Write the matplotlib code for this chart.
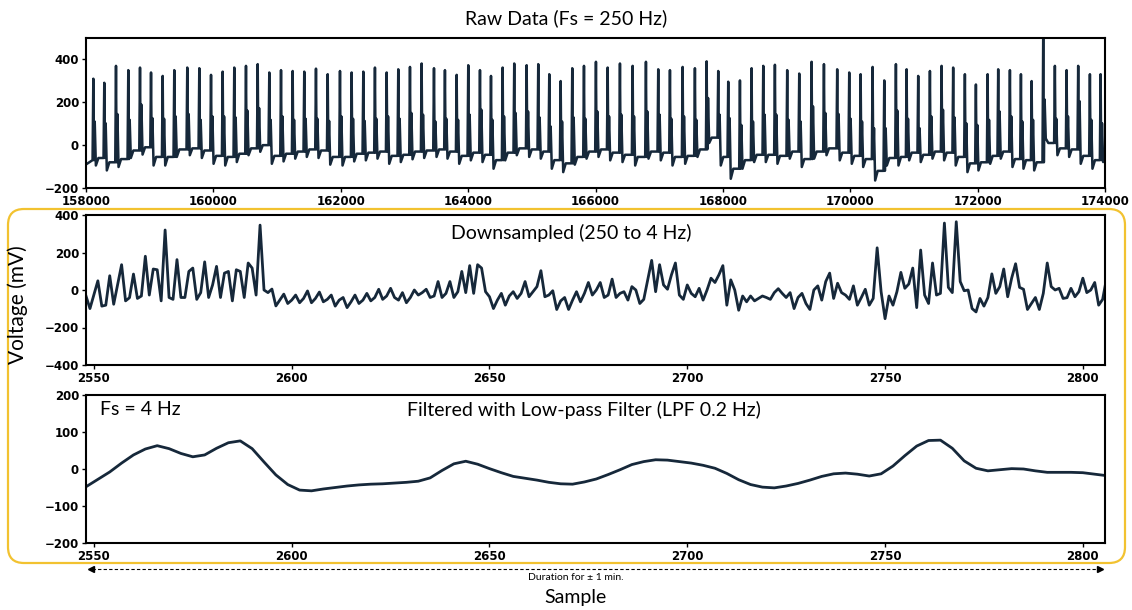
import matplotlib
matplotlib.use("Agg")
import matplotlib.pyplot as plt
import numpy as np
from matplotlib.lines import Line2D
from matplotlib.patches import FancyBboxPatch

# ---------------------------------------------------------------------------
# Raw data (Fs = 250 Hz): one entry per heart beat
# ---------------------------------------------------------------------------
beat_pos = [158115, 158287, 158471, 158664, 158848, 159021, 159204, 159386, 159590, 159779,
            159963, 160146, 160328, 160512, 160696, 160878, 161062, 161245, 161427, 161611,
            161795, 161988, 162171, 162354, 162537, 162721, 162903, 163087, 163270, 163464,
            163636, 163820, 164002, 164186, 164359, 164542, 164724, 164919, 165101, 165274,
            165453, 165635, 165819, 166007, 166191, 166384, 166583, 166792, 166985, 167169,
            167368, 167561, 167745, 167927, 168084, 168268, 168451, 168634, 168817, 169010,
            169199, 169393, 169587, 169795, 169984, 170163, 170351, 170534, 170717, 170885,
            171067, 171251, 171434, 171616, 171800, 171973, 172157, 172323, 172507, 172680,
            172848, 173030, 173213, 173397, 173579, 173763, 173931]
beat_peak = [310, 291, 370, 350, 362, 339, 323, 350, 362, 359, 328, 343, 362, 370, 378,
             339, 350, 346, 343, 357, 331, 346, 339, 343, 362, 339, 354, 365, 381,
             359, 350, 328, 373, 350, 323, 362, 381, 373, 378, 331, 299, 359, 370, 389,
             362, 381, 370, 389, 354, 350, 365, 359, 391, 346, 296, 302, 359, 370,
             375, 350, 334, 389, 378, 354, 339, 331, 365, 302, 378, 354, 323, 346, 370,
             362, 331, 283, 331, 354, 350, 331, 299, 520, 370, 350, 370, 331, 331]
beat_second = [110, 102, 145, 118, 189, 126, 123, 134, 145, 118, 134, 134, 129, 161, 173,
               118, 134, 118, 123, 123, 113, 134, 123, 113, 123, 134, 123, 150, 142,
               110, 123, 118, 142, 165, 118, 134, 150, 157, 129, 87, 110, 129, 123, 157,
               134, 142, 134, 157, 142, 123, 134, 118, 220, 142, 126, 94, 110, 142,
               142, 118, 110, 181, 150, 145, 123, 110, 79, 79, 161, 123, 79, 134, 165,
               129, 102, 94, 118, 157, 134, 110, 118, 213, 123, 134, 205, 118, 102]
beat_trough = [-95, -118, -102, -60, -44, -95, -95, -55, -47, -60, -87, -95, -79, -47, -31,
               -87, -76, -63, -55, -60, -91, -95, -76, -71, -63, -87, -79, -66, -60,
               -55, -63, -87, -71, -79, -110, -71, -47, -55, -63, -110, -126, -91, -63, -55,
               -71, -79, -95, -63, -71, -95, -87, -55, 10, -95, -157, -110, -79, -79,
               -87, -63, -102, -63, -47, -71, -87, -102, -165, -95, -95, -71, -79, -63, -71,
               -95, -126, -118, -87, -63, -102, -110, -118, 31, -47, -55, -87, -110, -79]
beat_base = [-70, -60, -80, -65, -25, -10, -55, -55, -20, -15, -25, -50, -55, -40, -15,
             0, -50, -40, -30, -20, -25, -55, -55, -40, -35, -30, -50, -45, -30,
             -25, -20, -30, -50, -35, -45, -70, -35, -15, -20, -30, -70, -85, -55, -30,
             -20, -35, -45, -55, -30, -35, -55, -50, -20, 35, -55, -110, -70, -45,
             -45, -50, -30, -65, -30, -15, -35, -50, -65, -120, -60, -55, -35, -45, -30,
             -35, -55, -85, -80, -50, -30, -65, -70, -80, 10, -15, -20, -50, -70]
raw_start = (158000, -90)
raw_end = (174000, -60)

# ---------------------------------------------------------------------------
# Downsampled (250 to 4 Hz), samples 2548..2806
# ---------------------------------------------------------------------------
down_start = 2548
down_vals = [
    -32, -99, -25, 49, -86, -81, 76, -76, 30, 135, -58, -41, 85, -45, -32, 180,
    -27, 112, 108, -58, 320, -40, -50, 162, -40, -40, 99, 117, -50, -14, 150, -40,
    27, 126, -40, 90, 99, -58, 108, 99, -40, 144, 117, -27, 346, 0, -14, 5,
    -85, -54, -22, -72, -54, -27, -68, -45, -5, -68, -45, -11, -63, -50, -27, -86,
    -54, -40,
    -94, -63, -27, -72, -54, -18, -58, -40, 4, -50, -32, 9, -40, -54, -14, -68,
    -40, 0, -27, -14, 4, -40, -32, 45, -40, -18, 45, -40, -9, 99, -14, 130,
    -18, 135, 117, -9, -36, -99, -54, -18, -81, -32, -9, -45, -18, 45, -36, -9,
    18, 103, -36, -27, -4, -104, -58, -40, -104, -54, -9, -63, -18, 40, -27, 0, 40,
    -40, -27, 58, -40, -18, -9, -54, 18, 0, -72, -50, 54, 158, -9, 135, 27,
    4, 81, 144, -27, -50, 27, -18, -36, 9, -54, 0, 63, 40, 81, 130, -81,
    54, 0, -108, -32, -63, -32, -58, -45, -32, -40, -50, -14, 7, -18, -40, -14,
    -99, -40, -18, -72, -104, 0, 22, -54, 45, 90, -45, 36, -14, -27, -50, 22,
    -81, -40, 4, -81, -45, 225, -9, -153, -32, -81, -9, 94, 9, 32, 117, -94,
    213, -27, -72, 144, -27, -18, 357, 14, -14, 364, 45, -4, 0, -99, -117, -45,
    -86, -40, 86, -18, 18, 112, -36, 63, 140, 14, 4, -104, -72, -40, -104, -18,
    144, 18, 0, 9, -45, -41, 9, -36, -9, 63, -14, 0, 40, -81, -50, 63,
]

# ---------------------------------------------------------------------------
# Filtered with LPF 0.2 Hz, read every 3 samples from 2548
# ---------------------------------------------------------------------------
filt_step = 3
filt_vals = [
    -48, -28, -8, 16, 38, 54, 63, 55, 42, 33, 38, 56, 71, 76, 55, 19,
    -16, -42, -57, -59, -54, -50, -46, -43, -41, -40, -38, -36, -33, -24, -4, 14,
    21, 13, 1, -10, -20, -25, -30, -36, -40, -41, -35, -27, -15, -2, 12, 20,
    25, 24, 20, 16, 10, 2, -12, -29, -42, -49, -51, -46, -39, -30, -20, -13,
    -11, -14, -19, -13, 8, 36, 62, 77, 78, 56, 22, 2, -5, -2, 1, 0,
    -5, -9, -9, -9, -10, -14, -18,
]

line_color = "#16283a"
box_color = "#f2c230"

plt.rcParams["font.family"] = ["Lato", "DejaVu Sans"]

W, H = 1132, 610
fig = plt.figure(figsize=(W / 100, H / 100), dpi=100)


def px_axes(left, top, right, bottom):
    return fig.add_axes([left / W, 1 - bottom / H, (right - left) / W, (bottom - top) / H])


def style_axes(ax):
    for sp in ax.spines.values():
        sp.set_linewidth(1.5)
        sp.set_color("black")
    ax.tick_params(length=3, width=1, pad=2)
    for lab in ax.get_xticklabels() + ax.get_yticklabels():
        lab.set_fontfamily("DejaVu Sans")
        lab.set_fontweight("bold")
        lab.set_fontsize(8.5)


# Yellow rounded frame round the lower two panels
frame = FancyBboxPatch((0.08, 0.47), 11.17, 3.54,
                       boxstyle="round,pad=0,rounding_size=0.16",
                       transform=fig.dpi_scale_trans, fill=False,
                       edgecolor=box_color, linewidth=1.6, zorder=0)
fig.add_artist(frame)

# --- Raw data ---
# each beat: resting level, spike, back to rest, second wave, trough, recovery
next_base = beat_base[1:] + [raw_end[1]]
raw_x = [raw_start[0]]
raw_y = [raw_start[1]]
for p, pk, sc, tr, bs, nb in zip(beat_pos, beat_peak, beat_second, beat_trough,
                                 beat_base, next_base):
    raw_x += [p - 12, p, p + 10, p + 22, p + 40, p + 80]
    raw_y += [bs, pk, bs, sc, tr, nb]
raw_x.append(raw_end[0])
raw_y.append(raw_end[1])

ax1 = px_axes(86, 38, 1105, 188)
ax1.plot(raw_x, raw_y, color=line_color, linewidth=1.8)
ax1.set_xlim(158000, 174000)
ax1.set_ylim(-200, 500)
ax1.set_xticks(np.arange(158000, 174001, 2000))
ax1.set_yticks([-200, 0, 200, 400])
style_axes(ax1)
fig.text(0.5, 1 - 18 / H, "Raw Data (Fs = 250 Hz)", ha="center", va="center", fontsize=14)

# --- Downsampled ---
down_x = np.arange(down_start, down_start + len(down_vals))
ax2 = px_axes(86, 215, 1105, 365)
ax2.plot(down_x, down_vals, color=line_color, linewidth=2)
ax2.set_xlim(2548, 2805.6)
ax2.set_ylim(-400, 400)
ax2.set_xticks(np.arange(2550, 2801, 50))
ax2.set_yticks([-400, -200, 0, 200, 400])
style_axes(ax2)
ax2.text(0.476, 0.88, "Downsampled (250 to 4 Hz)", transform=ax2.transAxes,
         ha="center", va="center", fontsize=14)

# --- Filtered ---
filt_x = down_start + filt_step * np.arange(len(filt_vals))
ax3 = px_axes(86, 395, 1105, 543)
ax3.plot(filt_x, filt_vals, color=line_color, linewidth=2)
ax3.set_xlim(2548, 2805.6)
ax3.set_ylim(-200, 200)
ax3.set_xticks(np.arange(2550, 2801, 50))
ax3.set_yticks([-200, -100, 0, 100, 200])
style_axes(ax3)
ax3.text(0.014, 0.90, "Fs = 4 Hz", transform=ax3.transAxes,
         ha="left", va="center", fontsize=14)
ax3.text(0.489, 0.90, "Filtered with Low-pass Filter (LPF 0.2 Hz)", transform=ax3.transAxes,
         ha="center", va="center", fontsize=14)

# Axis labels shared by the figure
fig.text(18 / W, 1 - 305 / H, "Voltage (mV)", rotation=90, ha="center", va="center", fontsize=15)
fig.text(575 / W, 1 - 598 / H, "Sample", ha="center", va="center", fontsize=14)

# Dashed duration arrow
y_arr = 1 - 569 / H
fig.add_artist(Line2D([92 / W, 1098 / W], [y_arr, y_arr], transform=fig.transFigure,
                      color="black", linewidth=0.8, linestyle=(0, (3, 2))))
fig.add_artist(Line2D([91 / W], [y_arr], transform=fig.transFigure, marker="<",
                      markersize=4, color="black", linestyle="none"))
fig.add_artist(Line2D([1100 / W], [y_arr], transform=fig.transFigure, marker=">",
                      markersize=4, color="black", linestyle="none"))
fig.text(576 / W, 1 - 578 / H, "Duration for \u00b1 1 min.", ha="center", va="center", fontsize=7.5)

fig.savefig("out.png", dpi=100)
